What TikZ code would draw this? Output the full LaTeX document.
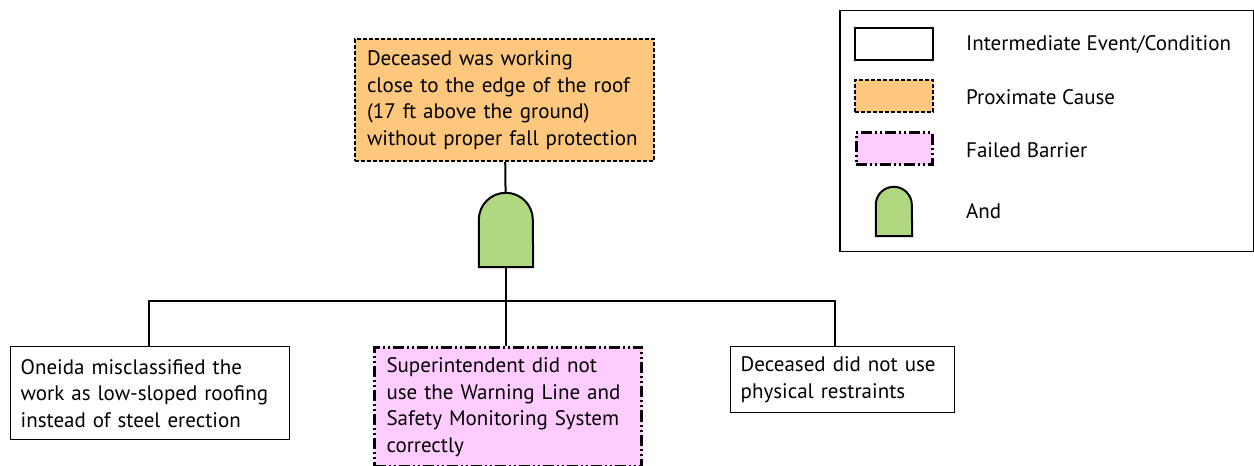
\documentclass[tikz,border=0pt]{standalone}
\usepackage{fontspec}
\setmainfont{PT Sans}
\usetikzlibrary{positioning}
\definecolor{causeorange}{HTML}{FDC87E}
\definecolor{barrierpink}{HTML}{FFCCFF}
\definecolor{gategreen}{HTML}{B0D880}
\begin{document}
\begin{tikzpicture}[line join=miter,
  every node/.style={font=\fontsize{21bp}{26.5bp}\selectfont},
  event/.style={draw=black,line width=1.4bp,fill=white,align=left,anchor=north west,inner xsep=10bp,inner ysep=0bp},
  cause/.style={draw=black,line width=2bp,dash pattern=on 4bp off 2bp,fill=causeorange,align=left,anchor=north west,inner xsep=12bp,inner ysep=0bp},
  barrier/.style={draw=black,line width=3bp,dash pattern=on 11bp off 3bp on 2bp off 3bp on 2bp off 3bp,fill=barrierpink,align=left,anchor=north west,inner xsep=12bp,inner ysep=0bp},
  gatebox/.style={draw=none,inner sep=0bp},
  gateline/.style={draw=black,line width=2bp,fill=gategreen},
  link/.style={black,line width=2bp},
  legendtext/.style={anchor=west,inner sep=0bp},
]
\useasboundingbox (0bp,0bp) rectangle (1254bp,466bp);
%%
\node (node_top) at (354bp,428bp) [cause,text width=275bp,minimum height=122bp] {Deceased was working\\close to the edge of the roof\\(17 ft above the ground)\\without proper fall protection};
  \node (gate) at (506bp,236bp) [gatebox,minimum width=54bp,minimum height=74bp] {};
  \node (node_left) at (10bp,120bp) [event,text width=259bp,minimum height=93bp] {Oneida misclassified the\\work as low-sloped roofing\\instead of steel erection};
  \node (node_mid) at (373bp,120bp) [barrier,text width=243bp,minimum height=119bp] {Superintendent did not\\use the Warning Line and\\Safety Monitoring System\\correctly};
  \node (node_right) at (730bp,120bp) [event,text width=204bp,minimum height=66bp] {Deceased did not use\\physical restraints};
  \draw [gateline] (gate.south west) -- ([yshift=-27bp]gate.north west) arc[start angle=180,end angle=0,radius=27bp] -- (gate.south east) -- cycle;
  \draw [link] (node_top) -- (gate);
  \draw [link] (gate.south) -- ++(0bp,-34bp) coordinate (split);
  \draw [link] (split) -- (split |- node_mid.north);
  \draw [link] ([xshift=-1.5bp]node_left.north) |- (split) -| ([xshift=-8bp]node_right.north);
%% legend
\node (legend) at (839bp,456bp) [draw=black,line width=1.5bp,anchor=north west,minimum width=414bp,minimum height=241bp,inner sep=0bp] {};
  \node (key_event) at (894bp,422bp) [event,anchor=center,minimum width=78bp,minimum height=32bp] {};
  \node (key_cause) at (894bp,370bp) [cause,anchor=center,minimum width=78bp,minimum height=32bp] {};
  \node (key_barrier) at (894bp,317bp) [barrier,anchor=center,minimum width=76bp,minimum height=32bp] {};
  \node (key_gate) at (894bp,254.5bp) [gatebox,minimum width=36bp,minimum height=49bp] {};
  \draw [gateline] (key_gate.south west) -- ([yshift=-18bp]key_gate.north west) arc[start angle=180,end angle=0,radius=18bp] -- (key_gate.south east) -- cycle;
  \node (lbl_event) at (966bp,422bp) [legendtext] {Intermediate Event/Condition};
  \node (lbl_cause) at (966bp,369bp) [legendtext] {Proximate Cause};
  \node (lbl_barrier) at (966bp,316bp) [legendtext] {Failed Barrier};
  \node (lbl_gate) at (966bp,255bp) [legendtext] {And};
%
\end{tikzpicture}
\end{document}
